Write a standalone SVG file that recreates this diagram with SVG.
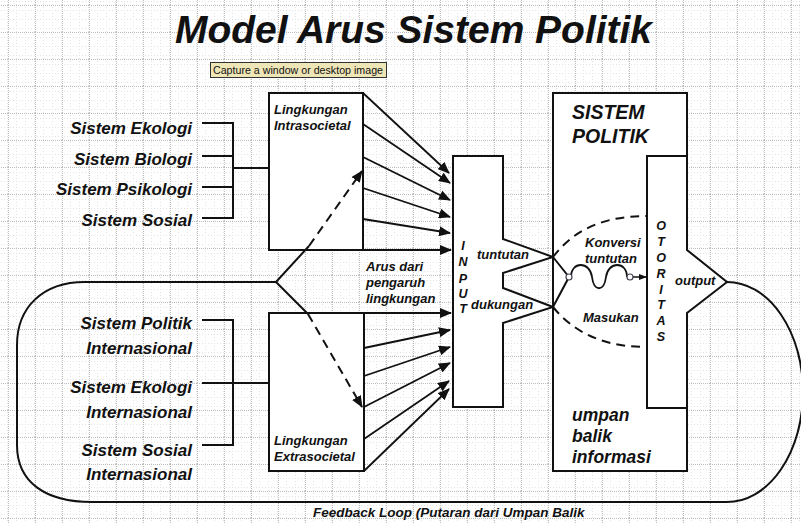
<svg xmlns="http://www.w3.org/2000/svg" width="801" height="523" viewBox="0 0 801 523">
<defs>
<pattern id="minor" width="9" height="9" patternUnits="userSpaceOnUse" x="8" y="5">
<path d="M0,0.5 H9 M0.5,0 V9" fill="none" stroke="#e2e2e2" stroke-width="1" stroke-dasharray="1,2"/>
</pattern>
<pattern id="major" width="27" height="27" patternUnits="userSpaceOnUse" x="8" y="5">
<rect width="27" height="27" fill="url(#minor)"/>
<path d="M0,0.5 H27 M0.5,0 V27" fill="none" stroke="#bdbdbd" stroke-width="1" stroke-dasharray="1,1"/>
</pattern>
<marker id="arr" viewBox="0 0 12 10" refX="11" refY="5" markerWidth="12" markerHeight="10" markerUnits="userSpaceOnUse" orient="auto">
<path d="M0,0 L12,5 L0,10 Z" fill="#111"/>
</marker>
<marker id="arrs" viewBox="0 0 8 6" refX="8" refY="3" markerWidth="8" markerHeight="6" markerUnits="userSpaceOnUse" orient="auto">
<path d="M0,0 L8,3 L0,6 Z" fill="#111"/>
</marker>
</defs>
<style>
.t{font-family:"Liberation Sans",Arial,sans-serif;font-weight:bold;font-style:italic;fill:#111}
.lbl{font-size:17px;text-anchor:end}
.sm{font-size:13px}
.box{fill:#fff;stroke:#111;stroke-width:2}
.ln{fill:none;stroke:#111;stroke-width:2}
.ar{fill:none;stroke:#111;stroke-width:1.8;marker-end:url(#arr)}
.dash{fill:none;stroke:#111;stroke-width:2;stroke-dasharray:9,6}
.vl{font-size:12.5px;text-anchor:middle}
</style>
<rect width="801" height="523" fill="#fff"/>
<rect width="801" height="523" fill="url(#major)"/>

<g id="title">
<text class="t" x="175" y="43" font-size="39" textLength="477" lengthAdjust="spacingAndGlyphs">Model Arus Sistem Politik</text>
</g>

<g id="tooltip">
<rect x="210.5" y="62.5" width="176" height="15" fill="#efe6b8" stroke="#333" stroke-width="1"/>
<text x="213" y="74" font-family="Liberation Sans,Arial,sans-serif" font-size="10" fill="#111" textLength="170" lengthAdjust="spacingAndGlyphs">Capture a window or desktop image</text>
</g>

<g id="labels-internal">
<text class="t lbl" x="192" y="134">Sistem Ekologi</text>
<text class="t lbl" x="192" y="165">Sistem Biologi</text>
<text class="t lbl" x="192" y="195">Sistem Psikologi</text>
<text class="t lbl" x="192" y="226">Sistem Sosial</text>
</g>
<g id="labels-external">
<text class="t lbl" x="192" y="329">Sistem Politik</text>
<text class="t lbl" x="192" y="354">Internasional</text>
<text class="t lbl" x="192" y="393">Sistem Ekologi</text>
<text class="t lbl" x="192" y="418">Internasional</text>
<text class="t lbl" x="192" y="456">Sistem Sosial</text>
<text class="t lbl" x="192" y="480">Internasional</text>
</g>

<g id="intrasocietal">
<rect class="box" x="269" y="93" width="94" height="157"/>
<text class="t sm" x="274" y="114">Lingkungan</text>
<text class="t sm" x="274" y="130">Intrasocietal</text>
</g>

<g id="extrasocietal">
<rect class="box" x="269" y="313" width="95" height="158"/>
<text class="t sm" x="274" y="445">Lingkungan</text>
<text class="t sm" x="274" y="461">Extrasocietal</text>
</g>

<g id="arus-label">
<text class="t sm" x="366" y="271">Arus dari</text>
<text class="t sm" x="366" y="287">pengaruh</text>
<text class="t sm" x="366" y="303">lingkungan</text>
</g>

<g id="input">
<path class="box" d="M453,156 H503 V239 L553,257 L503,273 V288 L553,307 L503,323 V407 H453 Z"/>
<text class="t vl" x="463" y="250">I</text>
<text class="t vl" x="463" y="266">N</text>
<text class="t vl" x="463" y="283">P</text>
<text class="t vl" x="463" y="298">U</text>
<text class="t vl" x="463" y="313">T</text>
<text class="t sm" x="477" y="259">tuntutan</text>
<text class="t sm" x="471" y="309">dukungan</text>
</g>

<g id="sistem-politik">
<path class="box" d="M553,93 H687 V250 L727,282 L687,313 V471 H553 Z"/>
<path class="ln" d="M687,156 H647 V408 H687"/>
<text class="t" x="572" y="119" font-size="19.5">SISTEM</text>
<text class="t" x="572" y="143" font-size="19.5">POLITIK</text>
<text class="t sm" x="585" y="247">Konversi</text>
<text class="t sm" x="585" y="263">tuntutan</text>
<text class="t sm" x="583" y="322">Masukan</text>
<text class="t sm" x="675" y="285">output</text>
<text class="t" x="572" y="421" font-size="17.5">umpan</text>
<text class="t" x="572" y="442" font-size="17.5">balik</text>
<text class="t" x="572" y="463" font-size="17.5">informasi</text>
</g>

<g id="otoritas">
<text class="t vl" x="661" y="230">O</text>
<text class="t vl" x="661" y="246">T</text>
<text class="t vl" x="661" y="262">O</text>
<text class="t vl" x="661" y="278">R</text>
<text class="t vl" x="661" y="294">I</text>
<text class="t vl" x="661" y="309">T</text>
<text class="t vl" x="661" y="325">A</text>
<text class="t vl" x="661" y="341">S</text>
</g>

<g id="feedback-label">
<text class="t" x="313" y="517" font-size="13.5">Feedback Loop (Putaran dari Umpan Balik</text>
</g>

<g id="connectors">
<path class="ln" d="M276,282 H85 C42,282 17,308 17,345 V445 C17,482 45,502 92,502 H727 A76 110 0 0 0 727,282"/>
<path class="ln" d="M202,123 H233 M202,156 H233 M202,187 H233 M202,218 H233 M233,122 V219 M233,168 H269"/>
<path class="ln" d="M202,320 H233 M202,383 H269 M202,445 H233 M233,319 V446"/>
<line class="ar" x1="363" y1="93" x2="449" y2="173"/>
<line class="ar" x1="363" y1="124" x2="450" y2="183"/>
<line class="ar" x1="363" y1="157" x2="450" y2="200"/>
<line class="ar" x1="363" y1="188" x2="450" y2="217"/>
<line class="ar" x1="363" y1="219" x2="450" y2="233"/>
<line class="ar" x1="363" y1="250" x2="451" y2="250"/>
<line class="ar" x1="364" y1="313" x2="451" y2="313"/>
<line class="ar" x1="364" y1="348" x2="450" y2="330"/>
<line class="ar" x1="364" y1="376" x2="450" y2="347"/>
<line class="ar" x1="364" y1="407" x2="450" y2="363"/>
<line class="ar" x1="364" y1="439" x2="449" y2="381"/>
<line class="ar" x1="364" y1="471" x2="449" y2="389"/>
<path class="ln" d="M276,282 L309,246 M276,282 L308,314"/>
<path class="dash" d="M309,246 L362,171" marker-end="url(#arr)"/>
<path class="dash" d="M308,314 L362,407" marker-end="url(#arr)"/>
<path class="dash" d="M553,257 C572,232 600,216 647,216"/>
<path class="dash" d="M553,307 C572,330 600,347 647,347"/>
<path fill="none" stroke="#111" stroke-width="2" d="M553,257 L569,277 L553,307"/>
<path fill="none" stroke="#111" stroke-width="1.8" d="M571,277 C571,261 590,261 592,277 C594,292 604,292 606,277 C608,261 627,261 627,277"/>
<circle cx="569" cy="277" r="3" fill="#fff" stroke="#445" stroke-width="1.2"/>
<line x1="633" y1="277" x2="647" y2="277" stroke="#111" stroke-width="1.5" marker-end="url(#arrs)"/>
<circle cx="630" cy="277" r="3" fill="#fff" stroke="#445" stroke-width="1.2"/>
</g>
</svg>
